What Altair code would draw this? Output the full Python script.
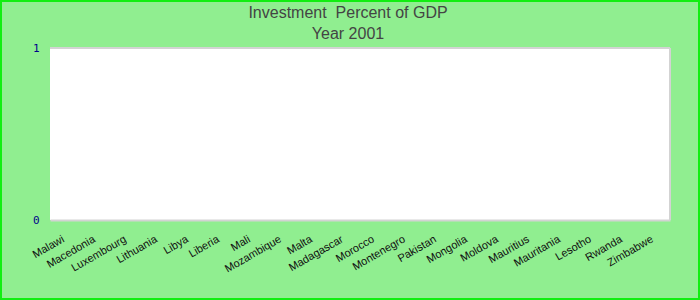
import altair as alt
import pandas as pd

countries = ["Malawi", "Macedonia", "Luxembourg", "Lithuania", "Libya", "Liberia",
             "Mali", "Mozambique", "Malta", "Madagascar", "Morocco", "Montenegro",
             "Pakistan", "Mongolia", "Moldova", "Mauritius", "Mauritania", "Lesotho",
             "Rwanda", "Zimbabwe"]
values = [0] * len(countries)
y_ticks = [0, 1]
title_lines = ["Investment\u00a0 Percent of GDP", "Year 2001"]

df = pd.DataFrame({"country": countries, "value": values})
deco = pd.DataFrame({"a": [0]})

W, H = 620, 172
PL, PT, PR, PB = 50, 48, 30, 80

bars = alt.Chart(df).mark_bar(color="#4572A7").encode(
    x=alt.X("country:N", sort=None, title=None,
            scale=alt.Scale(paddingInner=0.2, paddingOuter=0.1),
            axis=alt.Axis(labelAngle=-30, labelAlign="right", labelBaseline="top",
                          labelFont="Liberation Sans", labelFontSize=11,
                          labelColor="#111111", labelPadding=13, labelOffset=-5,
                          ticks=False, tickSize=0,
                          domain=True, domainColor="#d3d3d3", domainWidth=2,
                          labelOverlap=False, grid=False)),
    y=alt.Y("value:Q", title=None,
            scale=alt.Scale(domain=[0, 1], nice=False, zero=True),
            axis=alt.Axis(values=y_ticks, format="d", labelFont="DejaVu Sans Mono",
                          labelFontSize=11, labelColor="#00008b", labelPadding=11,
                          ticks=False, tickSize=0, domain=False, grid=False)),
)

title = alt.Chart(deco).mark_text(
    font="Liberation Sans", fontSize=16, color="#444444", align="center",
    baseline="alphabetic", lineHeight=21,
).encode(x=alt.value(W / 2 - 12), y=alt.value(-30), text=alt.value(title_lines))

top_rule = alt.Chart(deco).mark_rule(color="#d3d3d3", strokeWidth=2).encode(
    x=alt.value(0), x2=alt.value(W), y=alt.value(0))
right_rule = alt.Chart(deco).mark_rule(color="#d3d3d3", strokeWidth=2).encode(
    x=alt.value(W), y=alt.value(0), y2=alt.value(H))
border = alt.Chart(deco).mark_rect(filled=False, stroke="#11ee11", strokeWidth=2, clip=False).encode(
    x=alt.value(-PL + 1), x2=alt.value(W + PR - 1),
    y=alt.value(-PT + 1), y2=alt.value(H + PB - 1))

chart = alt.layer(bars, top_rule, right_rule, title, border).properties(
    width=W, height=H,
    autosize=alt.AutoSizeParams(type="none"),
    padding={"left": PL, "top": PT, "right": PR, "bottom": PB},
    background="#90ee90",
).configure_view(stroke=None, fill="white")

chart.save("out.html", embed_options={"renderer": "svg", "actions": False})
